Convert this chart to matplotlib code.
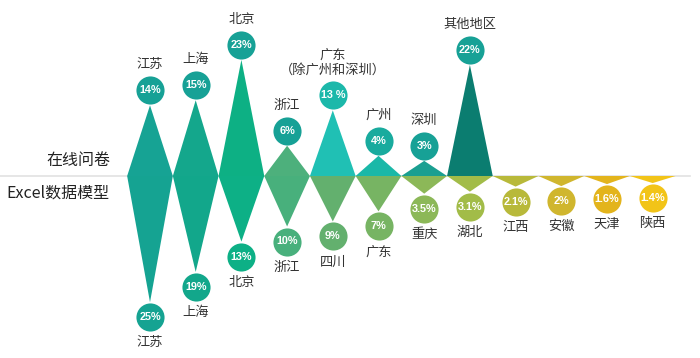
import matplotlib.pyplot as plt
from matplotlib.patches import Polygon

plt.rcParams['font.family'] = ['Noto Sans CJK SC', 'DejaVu Sans']

# 在线问卷
top_names = ['江苏', '上海', '北京', '浙江', '广东\n（除广州和深圳）', '广州', '深圳', '其他地区']
top_values = [14, 15, 23, 6, 13, 4, 3, 22]
top_labels = ['14%', '15%', '23%', '6%', '13 %', '4%', '3%', '22%']
top_colors = ['#16a394', '#14a78c', '#0db084', '#4db07c', '#20c0b4', '#1ab8a8', '#1a9f91', '#0b7d70']
top_circle = ['#17a196', '#17a196', '#17a196', '#17a196', '#1cb8aa', '#19ab9e', '#17a196', '#17a196']

# Excel数据模型
bot_names = ['江苏', '上海', '北京', '浙江', '四川', '广东', '重庆', '湖北', '江西', '安徽', '天津', '陕西']
bot_values = [25, 19, 13, 10, 9, 7, 3.5, 3.1, 2.1, 2, 1.6, 1.4]
bot_labels = ['25%', '19%', '13%', '10%', '9%', '7%', '3.5%', '3.1%', '2.1%', '2%', '1.6%', '1.4%']
bot_colors = ['#15a392', '#12a78b', '#0db086', '#48b07c', '#63b06e', '#77b463', '#8cb858',
              '#a2bc48', '#b8b93a', '#d0b62e', '#e3b41c', '#f2c418']

W, H = 700, 358
px_x = 45.7      # pixels per category
px_y = 5.05      # pixels per percent
x0, base = 150, 176

fig = plt.figure(figsize=(7, 3.58), dpi=100)
ax = fig.add_axes([0, 0, 1, 1])
ax.set_xlim(-x0 / px_x, (W - x0) / px_x)
ax.set_ylim(-(H - base) / px_y, base / px_y)
ax.axis('off')

ax.plot([-x0 / px_x, (690 - x0) / px_x], [0, 0], color='#e2e2e2', lw=1.2, zorder=0)

off = 15 / px_y
lab = 19 / px_y
pct_font = dict(color='white', fontsize=7.8, ha='center', va='center', zorder=4,
                family='Liberation Sans', fontweight='bold')

for i, v in enumerate(top_values):
    ax.add_patch(Polygon([[i - 0.5, 0], [i + 0.5, 0], [i, v]], closed=True,
                         color=top_colors[i], lw=0, zorder=2))
    cy = v + off
    ax.scatter(i, cy, s=410, color=top_circle[i], zorder=3, lw=0)
    ax.text(i, cy, top_labels[i], **pct_font)
    ax.text(i, cy + lab, top_names[i], color='#333333', fontsize=9.5, ha='center',
            va='bottom', linespacing=1.15)

for i, v in enumerate(bot_values):
    ax.add_patch(Polygon([[i - 0.5, 0], [i + 0.5, 0], [i, -v]], closed=True,
                         color=bot_colors[i], lw=0, zorder=1))
    cy = -v - off
    ax.scatter(i, cy, s=410, color=bot_colors[i], zorder=3, lw=0)
    ax.text(i, cy, bot_labels[i], **pct_font)
    ax.text(i, cy - lab, bot_names[i], color='#333333', fontsize=9.5, ha='center', va='top')

ax.text((110 - x0) / px_x, (base - 160) / px_y, '在线问卷', fontsize=11.5, color='#222222',
        ha='right', va='center')
ax.text((110 - x0) / px_x, (base - 193) / px_y, 'Excel数据模型', fontsize=11.5, color='#222222',
        ha='right', va='center')

fig.savefig('out.png', dpi=100)
